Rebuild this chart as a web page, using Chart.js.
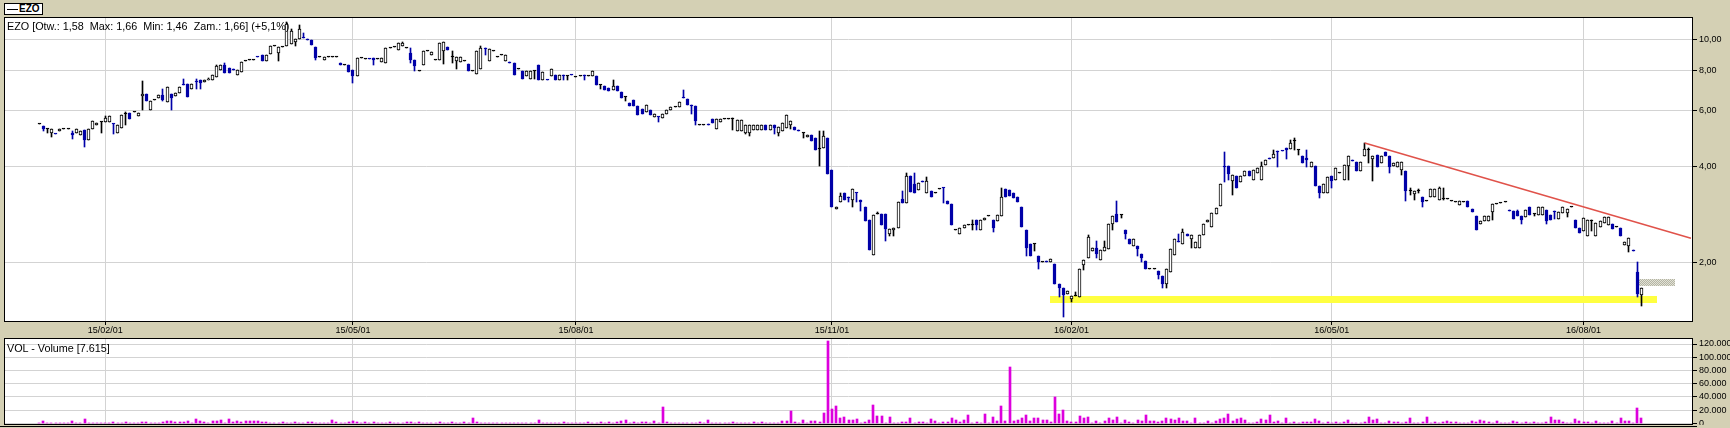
<!DOCTYPE html>
<html>
<head>
<meta charset="utf-8">
<title>EZO</title>
<script src="https://cdn.jsdelivr.net/npm/chart.js@4.4.1/dist/chart.umd.min.js"></script>
<style>
  html, body { margin: 0; padding: 0; }
  body { width: 1730px; height: 428px; background: #d4d0b4; position: relative; overflow: hidden; font-family: 'Liberation Sans', Arial, sans-serif; }
  canvas { position: absolute; left: 4px; }
  #price { top: 17px; }
  #vol { top: 338px; }
  #tag { position: absolute; left: 4px; top: 3px; width: 37px; height: 10px; background: #fff; border: 1px solid #000; font: bold 10px 'Liberation Sans', Arial, sans-serif; line-height: 10px; white-space: nowrap; }
  #tag i { display: inline-block; width: 11px; height: 1px; background: #000; vertical-align: middle; margin: 0 1px 0 2px; }
  .cap { position: absolute; left: 7px; font-size: 10.8px; line-height: 12px; white-space: pre; color: #000; }
  #rule { position: absolute; left: 0; top: 426px; width: 1697px; height: 1px; background: #000; }
</style>
</head>
<body>
<canvas id="price" width="1726" height="321"></canvas>
<canvas id="vol" width="1726" height="87"></canvas>
<div id="tag"><i></i>EZO</div>
<div class="cap" style="top:20px">EZO [Otw.: 1,58  Max: 1,66  Min: 1,46  Zam.: 1,66] (+5,1%)</div>
<div class="cap" style="top:342px">VOL - Volume [7.615]</div>
<div id="rule"></div>
<script>
// daily candles, oldest first
const open = [
  5.43,5.35,5.22,5.07,5.06,5.15,5.22,5.22,5.10,5.10,
  5.00,5.20,4.83,5.25,5.40,5.51,5.49,5.49,5.44,5.10,
  5.26,5.84,5.89,5.93,5.75,6.62,6.72,6.00,6.45,6.55,
  6.70,6.37,6.72,6.63,6.78,7.21,7.26,6.98,7.38,7.46,
  7.33,7.46,7.46,7.62,8.00,8.31,8.12,8.06,7.72,7.92,
  8.57,8.61,8.61,8.81,8.92,8.55,8.97,9.55,9.06,9.48,
  9.50,9.65,9.78,9.99,10.14,9.99,9.95,9.48,8.78,8.61,
  8.81,8.81,8.81,8.41,8.31,8.31,8.00,7.66,8.72,8.68,
  8.68,8.72,8.68,8.47,8.44,9.41,9.44,9.26,9.50,9.38,
  9.05,8.63,7.96,8.33,9.20,8.94,8.63,8.63,9.20,9.48,
  8.83,8.53,8.47,8.53,8.37,7.96,7.80,8.08,9.35,8.53,
  9.20,8.80,8.90,8.57,8.50,8.43,8.10,7.98,7.70,7.52,
  7.93,8.28,7.45,7.48,7.66,7.75,7.45,7.71,7.69,7.73,
  7.61,7.69,7.71,7.69,7.66,7.69,7.21,7.13,7.04,6.93,
  7.16,6.84,6.60,6.31,6.47,6.16,6.04,5.90,5.99,5.69,
  5.71,5.66,5.83,6.01,6.12,6.12,6.57,6.52,6.22,6.19,
  5.40,5.40,5.41,5.63,5.24,5.51,5.63,5.63,5.63,5.17,
  5.17,5.08,5.08,5.21,5.21,5.21,5.40,5.21,5.40,5.08,
  5.15,5.27,5.40,5.30,5.18,5.08,4.93,5.02,4.89,4.53,
  4.55,4.89,3.90,2.93,3.10,3.31,3.20,3.14,3.31,3.14,
  2.98,2.72,2.11,2.83,2.83,2.83,2.45,2.53,2.57,3.17,
  3.06,3.73,3.52,3.37,3.59,3.29,3.34,3.30,3.39,3.42,
  3.12,3.05,2.52,2.45,2.56,2.61,2.62,2.71,2.52,2.71,
  2.80,2.72,2.69,2.80,3.39,3.37,3.29,3.20,2.98,2.52,
  2.28,2.28,2.10,2.01,2.02,2.01,1.98,1.71,1.66,1.59,
  1.53,1.57,1.56,1.96,2.06,2.17,2.22,2.03,2.17,2.20,
  2.63,2.84,2.81,2.53,2.37,2.25,2.25,2.12,2.02,1.91,
  1.91,1.88,1.81,1.71,1.87,2.11,2.32,2.29,2.45,2.36,
  2.21,2.21,2.44,2.68,2.59,2.84,3.00,3.99,4.00,3.59,
  3.73,3.58,3.73,3.86,3.62,3.80,3.62,4.03,4.24,4.26,
  4.47,4.48,4.56,4.54,4.80,4.49,4.30,4.25,3.99,4.00,
  3.47,3.30,3.29,3.73,3.62,3.82,3.62,4.00,4.18,4.14,
  3.88,4.30,4.50,4.22,4.33,4.11,4.45,4.30,4.00,3.98,
  3.90,3.88,3.35,3.27,3.34,3.20,3.12,3.21,3.21,3.14,
  3.15,3.15,3.12,3.10,3.03,3.10,3.12,2.93,2.79,2.63,
  2.70,2.70,2.88,3.05,3.07,3.08,2.91,2.90,2.90,2.80,
  2.77,2.99,2.83,2.81,2.81,2.92,2.81,2.90,2.73,2.86,
  2.86,2.99,2.71,2.57,2.51,2.42,2.70,2.42,2.59,2.65,
  2.62,2.64,2.59,2.57,2.27,2.25,2.18,1.86,1.58
];
const high = [
  5.43,5.35,5.22,5.22,5.06,5.22,5.22,5.22,5.15,5.22,
  5.17,5.20,5.22,5.55,5.47,5.51,5.74,5.74,5.44,5.39,
  5.79,5.90,5.89,5.93,5.89,7.38,6.72,6.42,6.45,6.67,
  7.00,7.07,6.72,6.80,7.08,7.50,7.26,7.26,7.50,7.46,
  7.46,7.55,7.73,8.30,8.31,8.40,8.12,8.06,8.00,8.52,
  8.57,8.61,8.61,8.81,8.92,8.92,9.55,9.55,9.48,9.48,
  11.30,10.80,9.99,11.10,10.50,9.99,9.95,9.48,8.78,8.81,
  8.81,8.81,8.81,8.41,8.31,8.31,8.00,8.72,8.72,8.68,
  8.68,8.72,8.68,8.72,9.41,9.41,9.44,9.75,9.78,9.38,
  9.38,8.63,7.96,9.20,9.20,9.10,8.63,9.72,9.78,9.48,
  9.20,8.78,8.78,8.53,8.37,7.96,9.20,9.50,9.40,9.33,
  9.20,8.80,8.90,8.90,8.50,8.43,8.10,7.98,7.93,7.93,
  7.93,8.28,7.88,7.48,8.07,7.75,7.72,7.71,7.69,7.73,
  7.61,7.69,7.71,7.69,7.98,7.69,7.21,7.13,7.04,7.45,
  7.16,6.84,6.60,6.31,6.47,6.16,6.04,6.21,5.99,5.83,
  5.71,5.83,6.01,6.12,6.12,6.36,6.96,6.52,6.22,6.19,
  5.40,5.40,5.41,5.63,5.63,5.63,5.63,5.63,5.67,5.60,
  5.60,5.40,5.40,5.40,5.40,5.40,5.40,5.38,5.40,5.30,
  5.47,5.78,5.56,5.30,5.18,5.08,5.02,5.02,4.89,5.15,
  5.15,4.89,3.90,2.98,3.31,3.31,3.20,3.39,3.31,3.14,
  2.98,2.72,2.81,2.87,2.83,2.83,2.54,2.57,3.08,3.34,
  3.81,3.73,3.81,3.54,3.59,3.69,3.34,3.30,3.39,3.42,
  3.12,3.05,2.52,2.57,2.61,2.61,2.71,2.72,2.72,2.75,
  2.80,2.72,2.81,3.43,3.39,3.37,3.29,3.20,2.98,2.52,
  2.28,2.28,2.10,2.01,2.02,2.05,1.98,1.71,1.66,1.63,
  1.57,1.61,1.90,2.04,2.44,2.22,2.33,2.19,2.33,2.63,
  2.79,3.12,2.81,2.53,2.37,2.36,2.25,2.12,2.02,1.91,
  1.91,1.88,1.81,1.91,2.20,2.36,2.46,2.55,2.45,2.44,
  2.32,2.44,2.64,2.71,2.85,2.95,3.51,4.42,4.00,3.76,
  3.73,3.73,3.86,3.86,3.89,3.96,4.13,4.19,4.24,4.50,
  4.47,4.48,4.56,4.83,4.89,4.49,4.30,4.50,4.14,4.00,
  3.47,3.51,3.71,3.73,3.95,3.82,4.05,4.31,4.18,4.14,
  4.14,4.73,4.56,4.30,4.33,4.30,4.45,4.30,4.09,4.12,
  4.12,3.88,3.42,3.34,3.40,3.20,3.12,3.39,3.39,3.45,
  3.43,3.15,3.12,3.10,3.12,3.10,3.12,2.93,2.79,2.70,
  2.79,2.79,3.05,3.05,3.07,3.08,2.91,2.90,2.92,2.80,
  2.92,2.99,2.83,2.99,2.99,2.92,2.81,2.90,2.88,2.99,
  2.93,2.99,2.71,2.57,2.76,2.71,2.71,2.65,2.70,2.77,
  2.77,2.64,2.59,2.57,2.31,2.38,2.18,2.00,1.66
];
const low = [
  5.43,5.15,5.10,4.95,5.04,5.15,5.22,5.22,4.88,5.10,
  5.00,4.60,4.83,5.25,5.40,5.10,5.49,5.49,5.05,5.10,
  5.26,5.39,5.64,5.93,5.75,6.00,6.40,6.00,6.45,6.55,
  6.40,6.37,6.00,6.63,6.78,7.18,6.60,6.98,6.98,7.00,
  7.33,7.46,7.46,7.62,8.00,7.84,7.84,8.03,7.72,7.92,
  8.57,8.61,8.61,8.78,8.55,8.55,8.97,9.55,8.55,9.48,
  9.50,9.65,9.50,9.99,10.10,9.95,9.58,8.60,8.78,8.61,
  8.81,8.81,8.81,8.31,8.31,7.90,7.32,7.66,8.72,8.68,
  8.65,8.30,8.68,8.47,8.44,9.41,9.44,9.26,9.50,9.38,
  8.43,7.96,7.96,8.33,9.20,8.94,8.63,8.63,8.39,9.28,
  8.43,8.08,8.47,8.53,7.96,7.96,7.80,8.08,8.90,8.53,
  9.20,8.80,8.90,8.57,8.46,7.75,8.10,7.53,7.70,7.52,
  7.50,7.45,7.45,7.46,7.66,7.43,7.45,7.45,7.47,7.71,
  7.61,7.69,7.47,7.69,7.66,7.18,6.99,6.93,6.88,6.93,
  6.88,6.55,6.40,6.19,6.19,5.80,5.83,5.90,5.78,5.69,
  5.50,5.66,5.83,6.01,6.12,6.12,6.53,6.21,5.83,5.40,
  5.40,5.40,5.39,5.46,5.24,5.51,5.63,5.63,5.21,5.17,
  5.17,5.05,4.98,5.21,5.21,5.21,5.21,5.21,5.05,4.97,
  5.15,5.27,5.25,5.19,5.17,4.89,4.93,4.81,4.50,4.01,
  4.55,3.79,2.98,2.93,3.10,3.14,3.10,2.99,3.10,2.90,
  2.70,2.18,2.11,2.83,2.62,2.33,2.41,2.42,2.57,3.06,
  3.06,3.33,3.29,3.37,3.58,3.29,3.20,3.30,3.39,3.06,
  3.04,2.61,2.52,2.45,2.56,2.61,2.52,2.53,2.52,2.71,
  2.80,2.49,2.69,2.80,3.20,3.22,3.18,3.09,2.59,2.10,
  2.10,2.17,1.90,2.01,2.01,2.01,1.71,1.56,1.35,1.59,
  1.50,1.57,1.56,1.89,2.06,2.17,2.06,2.03,2.17,2.20,
  2.53,2.67,2.75,2.36,2.28,2.25,2.10,2.00,1.90,1.91,
  1.91,1.77,1.66,1.66,1.87,2.11,2.31,2.29,2.41,2.21,
  2.21,2.21,2.44,2.68,2.59,2.84,3.00,3.58,3.62,3.25,
  3.42,3.58,3.73,3.72,3.62,3.80,3.62,4.03,4.23,4.26,
  3.98,4.47,4.23,4.54,4.50,4.34,4.11,3.99,3.99,3.47,
  3.19,3.30,3.29,3.41,3.62,3.82,3.62,3.63,4.16,3.88,
  3.88,4.30,4.10,3.60,3.98,4.11,4.30,3.80,4.00,3.98,
  3.76,3.11,3.25,3.14,3.30,2.99,3.12,3.21,3.21,3.14,
  3.14,3.15,3.12,3.10,3.03,3.10,2.98,2.87,2.53,2.63,
  2.70,2.70,2.71,3.05,3.07,3.08,2.89,2.73,2.80,2.64,
  2.77,2.81,2.79,2.81,2.81,2.64,2.71,2.73,2.73,2.86,
  2.78,2.99,2.57,2.48,2.51,2.42,2.50,2.42,2.59,2.65,
  2.62,2.54,2.59,2.41,2.27,2.16,2.17,1.56,1.46
];
const close = [
  5.43,5.22,5.22,5.22,5.04,5.22,5.22,5.22,5.00,5.22,
  5.17,4.83,5.22,5.55,5.47,5.51,5.66,5.74,5.43,5.39,
  5.79,5.84,5.64,5.93,5.89,6.72,6.40,6.42,6.45,6.67,
  6.45,7.07,6.55,6.80,7.08,7.18,6.60,7.26,7.35,7.30,
  7.46,7.50,7.73,8.23,8.31,7.84,7.84,8.03,8.00,8.52,
  8.57,8.61,8.61,8.78,8.55,8.92,9.55,9.55,9.48,9.48,
  11.20,10.60,9.99,10.80,10.10,9.95,9.58,8.72,8.78,8.81,
  8.81,8.81,8.81,8.31,8.31,7.90,7.70,8.72,8.72,8.68,
  8.65,8.61,8.68,8.72,9.41,9.41,9.44,9.75,9.75,9.38,
  8.63,8.23,7.96,9.20,9.20,9.10,8.63,9.72,9.78,9.28,
  8.83,8.78,8.78,8.53,7.96,7.96,9.20,9.38,9.33,9.33,
  9.20,8.80,8.90,8.90,8.46,7.75,8.10,7.53,7.93,7.93,
  7.93,7.45,7.88,7.46,8.07,7.43,7.72,7.69,7.69,7.71,
  7.61,7.69,7.69,7.69,7.98,7.18,7.21,6.93,6.88,7.16,
  6.88,6.55,6.60,6.19,6.19,5.80,5.83,6.21,5.78,5.83,
  5.69,5.83,6.01,6.12,6.12,6.36,6.53,6.21,6.20,5.56,
  5.40,5.40,5.39,5.46,5.63,5.63,5.63,5.63,5.63,5.60,
  5.60,5.40,5.40,5.40,5.40,5.40,5.21,5.38,5.27,5.30,
  5.47,5.78,5.56,5.19,5.17,5.08,5.02,4.81,4.50,4.53,
  4.99,3.79,2.98,2.98,3.22,3.14,3.19,3.39,3.30,3.10,
  2.70,2.18,2.81,2.83,2.62,2.54,2.54,2.57,3.08,3.06,
  3.73,3.33,3.29,3.54,3.58,3.60,3.20,3.30,3.39,3.41,
  3.04,2.61,2.52,2.57,2.61,2.61,2.62,2.62,2.72,2.75,
  2.80,2.57,2.81,3.21,3.20,3.22,3.18,3.09,2.59,2.22,
  2.10,2.28,2.00,2.01,2.01,2.05,1.71,1.66,1.58,1.63,
  1.57,1.57,1.90,2.04,2.40,2.22,2.13,2.19,2.23,2.63,
  2.79,2.67,2.81,2.45,2.28,2.36,2.20,2.06,1.90,1.91,
  1.91,1.83,1.71,1.91,2.20,2.36,2.31,2.49,2.41,2.44,
  2.32,2.44,2.64,2.71,2.85,2.95,3.51,3.97,3.77,3.76,
  3.42,3.73,3.86,3.72,3.89,3.96,4.00,4.19,4.23,4.37,
  4.42,4.47,4.49,4.72,4.80,4.49,4.11,4.20,4.14,3.47,
  3.30,3.51,3.71,3.60,3.95,3.82,4.05,4.31,4.16,3.88,
  4.14,4.52,4.50,4.30,3.98,4.30,4.30,3.98,4.09,4.12,
  4.12,3.34,3.35,3.34,3.34,3.10,3.12,3.39,3.39,3.43,
  3.15,3.15,3.12,3.10,3.12,3.10,2.98,2.87,2.53,2.70,
  2.79,2.79,3.05,3.05,3.07,3.08,2.89,2.73,2.80,2.71,
  2.92,2.81,2.83,2.99,2.99,2.69,2.71,2.88,2.88,2.99,
  2.93,2.99,2.57,2.48,2.76,2.71,2.70,2.65,2.70,2.77,
  2.77,2.54,2.59,2.41,2.31,2.38,2.17,1.59,1.66
];
const volume = [
  0,3000,0,0,0,0,0,0,3000,0,
  0,6000,0,0,0,0,0,0,1500,0,
  0,1500,0,0,0,1500,1500,0,0,0,
  1500,3000,3000,1500,1500,1500,3000,0,6000,3000,
  1500,0,3000,3000,4500,0,6000,1500,3000,1500,
  3000,3000,3000,3000,1500,1500,0,0,0,1500,
  0,0,1500,0,0,1500,1500,0,0,0,
  0,4500,1500,0,0,1500,3000,1500,0,1500,
  0,1500,0,0,0,1500,0,0,0,1500,
  1500,0,1500,0,0,0,0,1500,0,0,
  1500,0,0,1500,0,7500,1500,0,0,0,
  0,0,0,0,0,0,0,0,0,0,
  0,4500,0,0,0,0,0,1500,0,0,
  0,0,0,1500,0,0,1500,0,1500,0,
  1500,3000,4500,0,1500,0,1500,1500,0,3000,
  0,24000,1500,0,0,0,0,0,0,0,
  1500,0,4500,0,0,0,0,0,1500,0,
  0,0,0,1500,0,1500,0,0,0,0,
  3000,3000,18000,1500,0,4500,0,3000,3000,1500,
  15000,124500,21000,25500,7500,9000,4500,4500,6000,0,
  1500,4500,27000,10500,10500,0,9000,0,0,1500,
  1500,7500,0,1500,1500,0,6000,3000,0,1500,
  1500,7500,4500,1500,4500,12000,0,1500,0,13500,
  0,9000,3000,25500,3000,85500,3000,4500,7500,12000,
  3000,7500,7500,4500,4500,1500,40500,13500,19500,3000,
  1500,1500,10500,7500,9000,0,3000,0,3000,7500,
  4500,9000,0,4500,1500,0,4500,3000,12000,3000,
  3000,1500,3000,7500,6000,4500,7500,3000,3000,0,
  7500,0,0,3000,0,3000,6000,7500,13500,3000,
  6000,7500,4500,0,0,1500,6000,4500,12000,1500,
  3000,0,7500,0,1500,0,1500,1500,1500,6000,
  3000,0,1500,0,1500,0,1500,4500,0,0,
  0,1500,9000,4500,6000,0,0,3000,1500,1500,
  0,1500,7500,0,0,1500,9000,0,1500,0,
  1500,3000,1500,1500,0,0,0,3000,1500,4500,
  3000,1500,0,3000,0,0,0,3000,1500,0,
  1500,0,1500,0,0,1500,9000,4500,4500,1500,
  0,0,6000,3000,1500,1500,0,3000,0,0,
  0,3000,0,7500,3000,3000,0,22500,7615
];

const dateLabels = ['15/02/01', '15/05/01', '15/08/01', '15/11/01', '16/02/01', '16/05/01', '16/08/01'];
const dateAt = [16, 76, 130, 192, 250, 313, 374];  // candle under each date line
const priceTicks = [2, 4, 6, 8, 10];
const volumeTicks = [0, 20000, 40000, 60000, 80000, 100000, 120000];

// drawn-in analysis marks: [candle, price] and [fromCandle, toCandle, lowPrice, highPrice]
const trendFrom = [321, 4.73];
const trendTo = [400, 2.38];
const supportZone = [244.8, 391.7, 1.49, 1.57];
const targetBox = [386.6, 396.1, 1.68, 1.77];

const padLeft = 8, padRight = 12;

(function () {
  'use strict'

  const n = close.length;
  if (open.length !== n || high.length !== n || low.length !== n || volume.length !== n) {
    throw new Error('length mismatch ' + [open.length, high.length, low.length, close.length, volume.length].join(','));
  }

  const BLUE = '#0000a8';
  const GRID = '#d3d3d3';
  const tickFont = { family: "'Liberation Sans', Arial, sans-serif", size: 9 };

  const slots = padLeft + n + padRight;
  const labels = [];
  for (let s = 0; s < slots; s++) labels.push('');
  dateAt.forEach((i, k) => { labels[i + padLeft] = dateLabels[k]; });
  const dateSlots = dateAt.map(i => i + padLeft);

  const bodies = [], wicks = [], vols = [], trend = [];
  const bodyFill = [], bodyLine = [], wickCol = [];
  for (let s = 0; s < slots; s++) {
    const i = s - padLeft;
    trend.push(null);
    if (i < 0 || i >= n) {
      bodies.push(null); wicks.push(null); vols.push(null);
      bodyFill.push('#fff'); bodyLine.push('#000'); wickCol.push('#000');
      continue;
    }
    const o = open[i], c = close[i];
    bodies.push([Math.min(o, c), Math.max(o, c)]);
    wicks.push([low[i], high[i]]);
    vols.push(volume[i]);
    if (c > o) { bodyFill.push('#fff'); bodyLine.push('#000'); wickCol.push('#000'); }
    else if (c < o) { bodyFill.push(BLUE); bodyLine.push(BLUE); wickCol.push(BLUE); }
    else { bodyFill.push('#000'); bodyLine.push('#000'); wickCol.push('#000'); }
  }
  trend[trendFrom[0] + padLeft] = trendFrom[1];
  trend[trendTo[0] + padLeft] = trendTo[1];

  // white plot area under the grid
  const paper = {
    id: 'paper',
    beforeDraw(chart) {
      const { ctx, chartArea: a } = chart;
      ctx.save();
      ctx.fillStyle = '#fff';
      ctx.fillRect(a.left, a.top, a.width, a.height);
      ctx.restore();
    }
  };

  // black frame round the plot area
  const frame = {
    id: 'frame',
    afterDraw(chart) {
      const { ctx, chartArea: a } = chart;
      ctx.save();
      ctx.strokeStyle = '#000';
      ctx.lineWidth = 1;
      ctx.strokeRect(a.left + 0.5, a.top + 0.5, a.width - 1, a.height - 1);
      ctx.restore();
    }
  };

  // snap bars to whole pixels so candles stay sharp
  const crisp = {
    id: 'crisp',
    afterDatasetsUpdate(chart) {
      chart.data.datasets.forEach((ds, k) => {
        const meta = chart.getDatasetMeta(k);
        if (meta.type !== 'bar') return;
        meta.data.forEach(el => {
          const w = Math.round(el.width);
          el.x = w % 2 ? Math.floor(el.x) + 0.5 : Math.round(el.x);
          el.y = Math.round(el.y);
          el.base = Math.round(el.base);
        });
      });
    }
  };

  function dotted(ctx) {
    const c = document.createElement('canvas');
    c.width = 2; c.height = 2;
    const g = c.getContext('2d');
    g.fillStyle = '#e2e2d6'; g.fillRect(0, 0, 2, 2);
    g.fillStyle = '#b4b4a4'; g.fillRect(0, 0, 1, 1); g.fillRect(1, 1, 1, 1);
    return ctx.createPattern(c, 'repeat');
  }

  // yellow support zone and the grey target box
  const marks = {
    id: 'marks',
    beforeDatasetsDraw(chart) {
      const { ctx, chartArea: a, scales: { x, y } } = chart;
      ctx.save();
      ctx.beginPath();
      ctx.rect(a.left, a.top, a.width, a.height);
      ctx.clip();
      const box = (r, fill) => {
        const x0 = Math.round(x.getPixelForValue(r[0] + padLeft));
        const x1 = Math.round(x.getPixelForValue(r[1] + padLeft));
        const y0 = Math.round(y.getPixelForValue(r[3]));
        const y1 = Math.round(y.getPixelForValue(r[2]));
        ctx.fillStyle = fill;
        ctx.fillRect(x0, y0, x1 - x0, y1 - y0);
      };
      box(supportZone, '#ffff40');
      box(targetBox, dotted(ctx));
      ctx.restore();
    }
  };

  const xAxis = (showLabels) => ({
    type: 'category',
    offset: true,
    border: { display: false },
    grid: { offset: false, color: GRID, tickColor: '#000', tickLength: 3, drawTicks: showLabels },
    ticks: { display: showLabels, autoSkip: false, maxRotation: 0, padding: 0, font: tickFont, color: '#000' },
    afterBuildTicks: s => { s.ticks = dateSlots.map(v => ({ value: v })); },
    afterFit: s => { s.height = showLabels ? 16 : 0; s.paddingLeft = 0; s.paddingRight = 0; }
  });

  const yFit = s => { s.width = 37; s.paddingTop = 0; s.paddingBottom = 0; };

  new Chart(document.getElementById('price'), {
    type: 'bar',
    data: {
      labels: labels,
      datasets: [
        {
          type: 'line',
          data: trend,
          borderColor: '#e0524a',
          borderWidth: 1.5,
          pointRadius: 0,
          spanGaps: true,
          order: 0
        },
        {
          data: bodies,
          backgroundColor: bodyFill,
          borderColor: bodyLine,
          borderWidth: 1,
          borderSkipped: false,
          barThickness: 3,
          minBarLength: 1,
          grouped: false,
          order: 1
        },
        {
          data: wicks,
          backgroundColor: wickCol,
          borderWidth: 0,
          barThickness: 1,
          grouped: false,
          order: 2
        }
      ]
    },
    options: {
      responsive: false,
      animation: false,
      devicePixelRatio: 1,
      layout: { padding: 0 },
      plugins: { legend: { display: false }, tooltip: { enabled: false } },
      scales: {
        x: xAxis(true),
        y: {
          type: 'logarithmic',
          position: 'right',
          min: 1.30,
          max: 11.75,
          border: { display: false },
          grid: { color: GRID, tickColor: '#000', tickLength: 4 },
          ticks: { autoSkip: false, padding: 2, font: tickFont, color: '#000', callback: v => Number(v).toFixed(2).replace('.', ',') },
          afterBuildTicks: s => { s.ticks = priceTicks.map(v => ({ value: v })); },
          afterFit: yFit
        }
      }
    },
    plugins: [paper, crisp, marks, frame]
  });

  new Chart(document.getElementById('vol'), {
    type: 'bar',
    data: {
      labels: labels,
      datasets: [{
        data: vols,
        backgroundColor: '#dd00dd',
        borderWidth: 0,
        barThickness: 2,
        grouped: false
      }]
    },
    options: {
      responsive: false,
      animation: false,
      devicePixelRatio: 1,
      layout: { padding: 0 },
      plugins: { legend: { display: false }, tooltip: { enabled: false } },
      scales: {
        x: xAxis(false),
        y: {
          position: 'right',
          min: -2600,
          max: 129100,
          border: { display: false },
          grid: { color: GRID, tickColor: '#000', tickLength: 4 },
          ticks: { autoSkip: false, padding: 2, font: tickFont, color: '#000', callback: v => String(v).replace(/\B(?=(\d{3})+(?!\d))/g, '.') },
          afterBuildTicks: s => { s.ticks = volumeTicks.map(v => ({ value: v })); },
          afterFit: yFit
        }
      }
    },
    plugins: [paper, crisp, frame]
  });
})()
</script>
</body>
</html>
